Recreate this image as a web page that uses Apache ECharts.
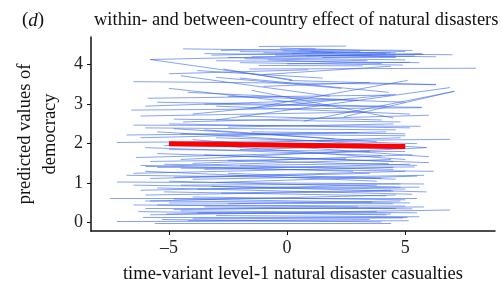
<!DOCTYPE html>
<html>
<head>
<meta charset="utf-8">
<script src="https://cdn.jsdelivr.net/npm/echarts@6/dist/echarts.min.js"></script>
<style>
  html, body { margin: 0; padding: 0; background: #fff; }
  #main { width: 502px; height: 284px; }
</style>
</head>
<body>
<div id="main"></div>
<script>
// country-level lines: [x1, y1, x2, y2]
const topCluster = [
  [-4.4, 4.40, 3.1, 4.34], [-1.2, 4.46, 2.5, 4.47], [-0.3, 4.42, 5.0, 4.33],
  [0.5, 4.38, 5.3, 4.36], [-2.0, 4.33, 4.4, 4.30], [-3.5, 4.28, 4.6, 4.22],
  [-1.0, 4.30, 7.0, 4.25], [-5.8, 4.13, 5.7, 4.28], [-0.5, 4.24, 6.3, 4.20],
  [-1.5, 4.20, 4.6, 4.18], [0.2, 4.28, 3.6, 4.25], [-2.5, 4.18, 5.0, 4.12],
  [-1.8, 4.15, 3.4, 4.10], [0.8, 4.22, 5.8, 4.26], [-3.0, 4.10, 5.6, 4.05],
  [-0.8, 4.12, 4.0, 4.03], [-2.0, 4.05, 4.9, 3.99], [0.0, 4.02, 5.2, 4.06],
  [-3.2, 4.24, 2.0, 4.31], [1.0, 4.33, 4.6, 4.30], [-1.2, 3.98, 3.2, 3.97],
  [-0.2, 4.35, 4.2, 4.28], [1.5, 4.18, 5.4, 4.22], [-2.8, 4.36, 1.2, 4.40]
];
const upperLines = [
  [-5.8, 4.13, 0.2, 3.62], [-2.7, 3.89, 0.2, 3.60], [-1.6, 3.89, 8.0, 3.91],
  [-5.0, 3.77, 0.9, 3.87], [0.1, 3.60, 6.3, 3.49], [-6.5, 3.57, 6.3, 3.50],
  [-3.8, 3.85, 1.5, 3.66], [-1.0, 3.75, 4.4, 3.96], [-3.0, 3.68, 2.3, 3.40],
  [-2.0, 3.66, 4.3, 3.30], [-4.5, 3.72, 1.8, 3.20], [-1.0, 3.45, 3.5, 3.55],
  [0.7, 2.57, 7.05, 3.32], [-3.0, 2.60, 6.9, 3.42], [-1.5, 2.90, 5.1, 3.60],
  [2.4, 2.68, 7.1, 3.33], [-4.0, 2.75, 4.6, 3.25]
];
const midLines = [
  [-5.9, 3.15, 4.4, 3.23], [-6.6, 2.85, 5.7, 2.91], [-5.5, 3.05, 4.2, 2.95],
  [-4.2, 3.30, 3.0, 3.10], [-3.0, 2.95, 5.2, 2.75], [-6.2, 2.70, 3.3, 2.80],
  [-2.5, 3.20, 5.0, 3.05], [-4.8, 2.62, 4.8, 2.55], [-1.5, 3.35, 4.5, 2.65],
  [-5.0, 3.40, 1.8, 2.95], [-3.5, 3.00, 5.7, 2.92], [-6.0, 2.95, 2.5, 3.12],
  [-2.0, 2.70, 4.0, 2.60], [-4.4, 2.55, 6.0, 2.72],
  [-6.5, 2.47, 5.65, 2.44], [-7.2, 2.03, 6.9, 2.11], [-6.0, 2.40, 4.6, 2.35],
  [-5.5, 2.30, 5.9, 1.90], [-4.5, 2.25, 5.0, 2.20], [-3.5, 2.35, 3.8, 2.05],
  [-6.2, 2.15, 4.2, 2.30], [-5.0, 2.50, 5.2, 2.40], [-4.0, 2.10, 6.0, 1.67],
  [-2.5, 2.42, 4.5, 2.50], [-6.8, 2.22, 3.0, 2.28], [-5.2, 1.95, 4.8, 2.15],
  [-3.0, 2.15, 5.5, 2.00], [-4.8, 2.38, 2.0, 2.12], [-1.5, 2.30, 5.0, 2.25]
];
const lowLines = [
  [-5.0, 1.85, 5.0, 1.80], [-6.0, 1.90, 4.0, 1.70], [-4.5, 1.60, 5.9, 1.90],
  [-5.5, 1.75, 4.5, 1.55], [-3.0, 1.95, 5.0, 1.60], [-6.4, 1.65, 3.5, 1.80],
  [-4.0, 1.50, 5.3, 1.72], [-2.0, 1.85, 4.2, 1.95], [-5.8, 1.55, 2.5, 1.62],
  [-3.5, 1.72, 6.0, 1.52], [-4.8, 1.95, 4.8, 1.88], [-6.0, 1.42, 4.4, 1.60],
  [-2.5, 1.58, 5.5, 1.45],
  [-7.2, 1.03, 5.8, 0.98], [-6.5, 1.25, 4.5, 1.40], [-5.5, 1.40, 5.4, 1.41],
  [-4.8, 1.15, 5.0, 1.30], [-6.0, 1.30, 3.8, 1.05], [-5.2, 1.48, 4.5, 1.35],
  [-4.0, 1.10, 5.8, 1.20], [-6.8, 1.20, 4.0, 1.12], [-3.5, 1.35, 5.2, 1.48],
  [-5.0, 1.05, 4.8, 0.90], [-2.5, 1.25, 4.6, 1.10], [-6.2, 1.45, 2.8, 1.30],
  [-4.5, 1.38, 6.2, 1.30], [-3.0, 1.02, 5.5, 1.18], [-5.8, 1.12, 3.5, 1.25],
  [-2.0, 1.45, 4.3, 1.50]
];
const bottomLines = [
  [-6.5, 0.95, 5.0, 0.85], [-6.0, 0.70, 4.5, 0.80], [-5.5, 0.88, 5.3, 0.72],
  [-7.5, 0.62, 5.5, 0.62], [-4.5, 0.95, 4.8, 0.98], [-5.2, 0.78, 4.2, 0.68],
  [-3.8, 0.85, 5.6, 0.90], [-6.2, 0.82, 3.8, 0.95], [-4.0, 0.65, 5.0, 0.58],
  [-5.8, 0.55, 4.6, 0.70], [-2.8, 0.75, 4.4, 0.82], [-4.8, 0.60, 3.6, 0.52],
  [-3.2, 0.92, 5.9, 0.78],
  [-7.2, 0.03, 5.15, 0.05], [-5.6, -0.01, 4.4, -0.01], [-6.1, 0.14, 5.1, 0.14],
  [-5.1, 0.22, 6.9, 0.32], [-6.0, 0.37, 4.6, 0.37], [-5.5, 0.45, 5.0, 0.42],
  [-4.5, 0.30, 5.5, 0.25], [-6.3, 0.28, 4.2, 0.20], [-4.0, 0.10, 4.9, 0.12],
  [-5.0, 0.50, 4.5, 0.48], [-3.5, 0.40, 5.3, 0.35], [-5.8, 0.20, 3.8, 0.28],
  [-4.2, 0.05, 3.5, 0.08], [-3.0, 0.18, 5.6, 0.15], [-6.5, 0.45, 3.0, 0.40],
  [-4.8, 0.33, 5.8, 0.40], [-2.5, 0.48, 4.8, 0.55], [-5.3, 0.08, 4.0, 0.02],
  [-3.8, 0.25, 4.4, 0.22], [-6.0, 0.55, 5.2, 0.50]
];
// overall fitted effect
const fitLine = [[-5, 2.0], [5, 1.93]];
const xTicks = [-5, 0, 5];
const yTicks = [0, 1, 2, 3, 4];

const allLines = [].concat(topCluster, upperLines, midLines, lowLines, bottomLines);
const serif = 'Liberation Serif';

const chart = echarts.init(document.getElementById('main'));
chart.setOption({
  animation: false,
  title: [
    {
      text: 'within- and between-country effect of natural disasters',
      left: 89, top: 6,
      textStyle: { fontFamily: serif, fontSize: 18.5, fontWeight: 'normal', color: '#111' }
    },
    {
      text: '{a|(}{b|d}{a|)}',
      left: 17, top: 6,
      textStyle: {
        fontWeight: 'normal',
        rich: {
          a: { fontFamily: serif, fontSize: 19, fontWeight: 'normal', color: '#111' },
          b: { fontFamily: serif, fontSize: 19, fontWeight: 'normal', fontStyle: 'italic', color: '#111' }
        }
      }
    }
  ],
  grid: { left: 91, right: 7, top: 37, bottom: 53, outerBoundsMode: 'none' },
  xAxis: {
    type: 'value', min: -8.3, max: 8.8,
    name: 'time-variant level-1 natural disaster casualties',
    nameLocation: 'middle', nameGap: 34,
    nameTextStyle: { fontFamily: serif, fontSize: 18.5, color: '#111' },
    axisLine: { onZero: false, lineStyle: { color: '#111', width: 1.5 } },
    axisTick: { customValues: xTicks, length: 4, lineStyle: { color: '#111' } },
    axisLabel: {
      customValues: xTicks, fontFamily: serif, fontSize: 18, color: '#222', margin: 8,
      formatter: v => String(v).replace('-', '\u2013')
    },
    splitLine: { show: false }
  },
  yAxis: {
    type: 'value', min: -0.21, max: 4.7,
    name: 'predicted values of\ndemocracy',
    nameLocation: 'middle', nameGap: 27, nameRotate: 90,
    nameTextStyle: { fontFamily: serif, fontSize: 18.5, color: '#111', lineHeight: 25 },
    axisLine: { show: true, onZero: false, lineStyle: { color: '#111', width: 1.5 } },
    axisTick: { show: true, customValues: yTicks, length: 4, lineStyle: { color: '#111' } },
    axisLabel: { customValues: yTicks, fontFamily: serif, fontSize: 18, color: '#222', margin: 8 },
    splitLine: { show: false }
  },
  series: [
    {
      type: 'lines',
      coordinateSystem: 'cartesian2d',
      data: allLines.map(s => ({ coords: [[s[0], s[1]], [s[2], s[3]]] })),
      lineStyle: { color: 'rgb(55,100,235)', width: 1, opacity: 0.6 },
      silent: true
    },
    {
      type: 'line',
      data: fitLine,
      symbol: 'none',
      lineStyle: { color: '#ff0000', width: 5 },
      z: 5
    }
  ]
});
</script>
</body>
</html>
